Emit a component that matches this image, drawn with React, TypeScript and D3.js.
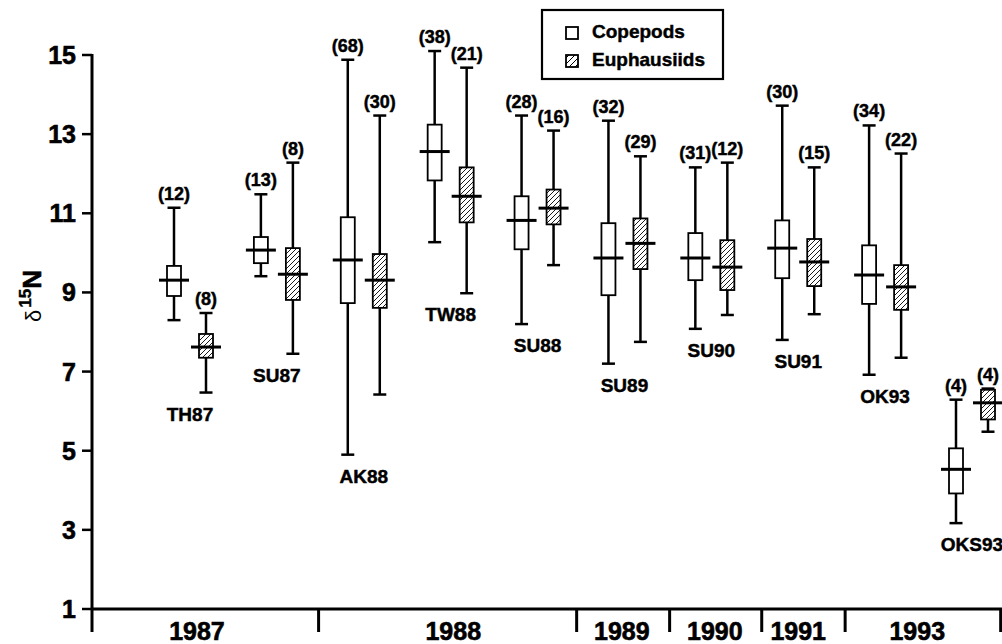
import React from "react";
import * as d3 from "d3";

const stations = ["TH87", "SU87", "AK88", "TW88", "SU88", "SU89", "SU90", "SU91", "OK93", "OKS93"];

// Copepods
const copMax = [11.14, 11.48, 14.88, 15.1, 13.47, 13.34, 12.16, 13.72, 13.22, 6.29];
const copQ3 = [9.67, 10.4, 10.9, 13.24, 11.43, 10.75, 10.5, 10.82, 10.19, 5.06];
const copMed = [9.31, 10.07, 9.82, 12.56, 10.82, 9.87, 9.87, 10.12, 9.44, 4.53];
const copQ1 = [8.91, 9.74, 8.73, 11.83, 10.09, 8.93, 9.31, 9.36, 8.71, 3.92];
const copMin = [8.3, 9.41, 4.9, 10.27, 8.2, 7.2, 8.08, 7.8, 6.92, 3.17];
const copN = [12, 13, 68, 38, 28, 32, 31, 30, 34, 4];

// Euphausiids
const euMax = [8.48, 12.28, 13.47, 14.68, 13.09, 12.44, 12.28, 12.16, 12.51, 6.57];
const euQ3 = [7.95, 10.12, 9.97, 12.16, 11.6, 10.87, 10.32, 10.35, 9.69, 6.54];
const euMed = [7.62, 9.46, 9.31, 11.43, 11.13, 10.24, 9.64, 9.77, 9.14, 6.21];
const euQ1 = [7.35, 8.81, 8.61, 10.77, 10.72, 9.59, 9.06, 9.16, 8.56, 5.79];
const euMin = [6.47, 7.45, 6.42, 8.98, 9.69, 7.75, 8.43, 8.45, 7.35, 5.48];
const euN = [8, 8, 30, 21, 16, 29, 12, 15, 22, 4];

// Year groups (positions in station-index units)
const years = ["1987", "1988", "1989", "1990", "1991", "1993"];
const yearLabelAt = [0.08, 3.03, 4.97, 6.04, 7.0, 8.37];
const yearBreaks = [1.48, 4.45, 5.52, 6.58, 7.54, 9.33];

const yTicks = [1, 3, 5, 7, 9, 11, 13, 15];

const FONT = "'Liberation Sans', Arial, Helvetica, sans-serif";

export default function App() {
  const W = 1002;
  const H = 644;
  const axisX = 92;
  const axisY = 609;
  const y = d3.scaleLinear().domain([1, 15]).range([609, 55]);
  const x = d3.scaleLinear().domain([0, stations.length - 1]).range([190, 972]);
  const off = 16;
  const boxW = 14;
  const capW = 13;
  const medW = 30;

  const series = [
    { key: "cop", dx: -off, max: copMax, q3: copQ3, med: copMed, q1: copQ1, min: copMin, n: copN, fill: "white" },
    { key: "eu", dx: off, max: euMax, q3: euQ3, med: euMed, q1: euQ1, min: euMin, n: euN, fill: "url(#hatch)" },
  ];

  const bold = { fontWeight: "bold" as const, stroke: "black", strokeWidth: 0.45 };

  return (
    <svg
      width={W}
      height={H}
      style={{ position: "absolute", left: 0, top: 0, background: "white" }}
      fontFamily={FONT}
    >
      <defs>
        <pattern id="hatch" patternUnits="userSpaceOnUse" width={5} height={5}>
          <rect width={5} height={5} fill="white" />
          <path d="M-1,6 L6,-1 M-2,2 L2,-2 M3,7 L7,3" stroke="black" strokeWidth={0.9} />
        </pattern>
        <pattern id="hatchL" patternUnits="userSpaceOnUse" width={6} height={6}>
          <rect width={6} height={6} fill="white" />
          <path d="M-1,7 L7,-1" stroke="black" strokeWidth={1} />
        </pattern>
      </defs>

      {/* Y axis */}
      <line x1={axisX} x2={axisX} y1={y(15) - 1} y2={632} stroke="black" strokeWidth={3} />
      {yTicks.map((t) => (
        <g key={t}>
          <line x1={axisX - 10} x2={axisX} y1={y(t)} y2={y(t)} stroke="black" strokeWidth={2.5} />
          <text x={76} y={y(t)} dy="0.36em" textAnchor="end" fontSize={25} {...bold} strokeWidth={0.6}>
            {t}
          </text>
        </g>
      ))}
      <text transform={`translate(41, 322) rotate(-90)`} fontWeight="bold">
        <tspan fontSize={22} fontWeight="normal">δ</tspan>
        <tspan fontSize={17} dx={2} dy={-10} stroke="black" strokeWidth={0.4}>15</tspan>
        <tspan fontSize={26} dy={10} stroke="black" strokeWidth={0.6}>N</tspan>
      </text>

      {/* X axis */}
      <line x1={axisX} x2={W} y1={axisY} y2={axisY} stroke="black" strokeWidth={3} />
      {yearBreaks.map((b, i) => (
        <line key={i} x1={x(b)} x2={x(b)} y1={axisY} y2={632} stroke="black" strokeWidth={3} />
      ))}
      {years.map((yr, i) => (
        <text key={yr} x={x(yearLabelAt[i])} y={640} textAnchor="middle" fontSize={25} {...bold} strokeWidth={0.6}>
          {yr}
        </text>
      ))}

      {/* Boxes */}
      {series.map((s) =>
        stations.map((st, i) => {
          const cx = x(i) + s.dx;
          return (
            <g key={s.key + st}>
              <line x1={cx} x2={cx} y1={y(s.max[i])} y2={y(s.min[i])} stroke="black" strokeWidth={2.5} />
              <line x1={cx - capW / 2} x2={cx + capW / 2} y1={y(s.max[i])} y2={y(s.max[i])} stroke="black" strokeWidth={2.5} />
              <line x1={cx - capW / 2} x2={cx + capW / 2} y1={y(s.min[i])} y2={y(s.min[i])} stroke="black" strokeWidth={2.5} />
              <rect
                x={cx - boxW / 2}
                y={y(s.q3[i])}
                width={boxW}
                height={y(s.q1[i]) - y(s.q3[i])}
                fill={s.fill}
                stroke="black"
                strokeWidth={1.8}
              />
              <line x1={cx - medW / 2} x2={cx + medW / 2} y1={y(s.med[i])} y2={y(s.med[i])} stroke="black" strokeWidth={3} />
              <text x={cx} y={y(s.max[i]) - 8} textAnchor="middle" fontSize={18} {...bold}>
                ({s.n[i]})
              </text>
            </g>
          );
        })
      )}

      {/* Station labels */}
      {stations.map((st, i) => (
        <text
          key={st}
          x={x(i)}
          y={y(Math.min(copMin[i], euMin[i])) + 28}
          textAnchor="middle"
          fontSize={19}
          {...bold}
        >
          {st}
        </text>
      ))}

      {/* Legend */}
      <rect x={542} y={10} width={181} height={69} fill="white" stroke="black" strokeWidth={2.2} />
      <rect x={566} y={27} width={12} height={12} fill="white" stroke="black" strokeWidth={1.8} />
      <text x={592} y={38} fontSize={19} {...bold}>Copepods</text>
      <rect x={566} y={55} width={12} height={12} fill="url(#hatchL)" stroke="black" strokeWidth={1.8} />
      <text x={592} y={66} fontSize={19} {...bold}>Euphausiids</text>
    </svg>
  );
}
